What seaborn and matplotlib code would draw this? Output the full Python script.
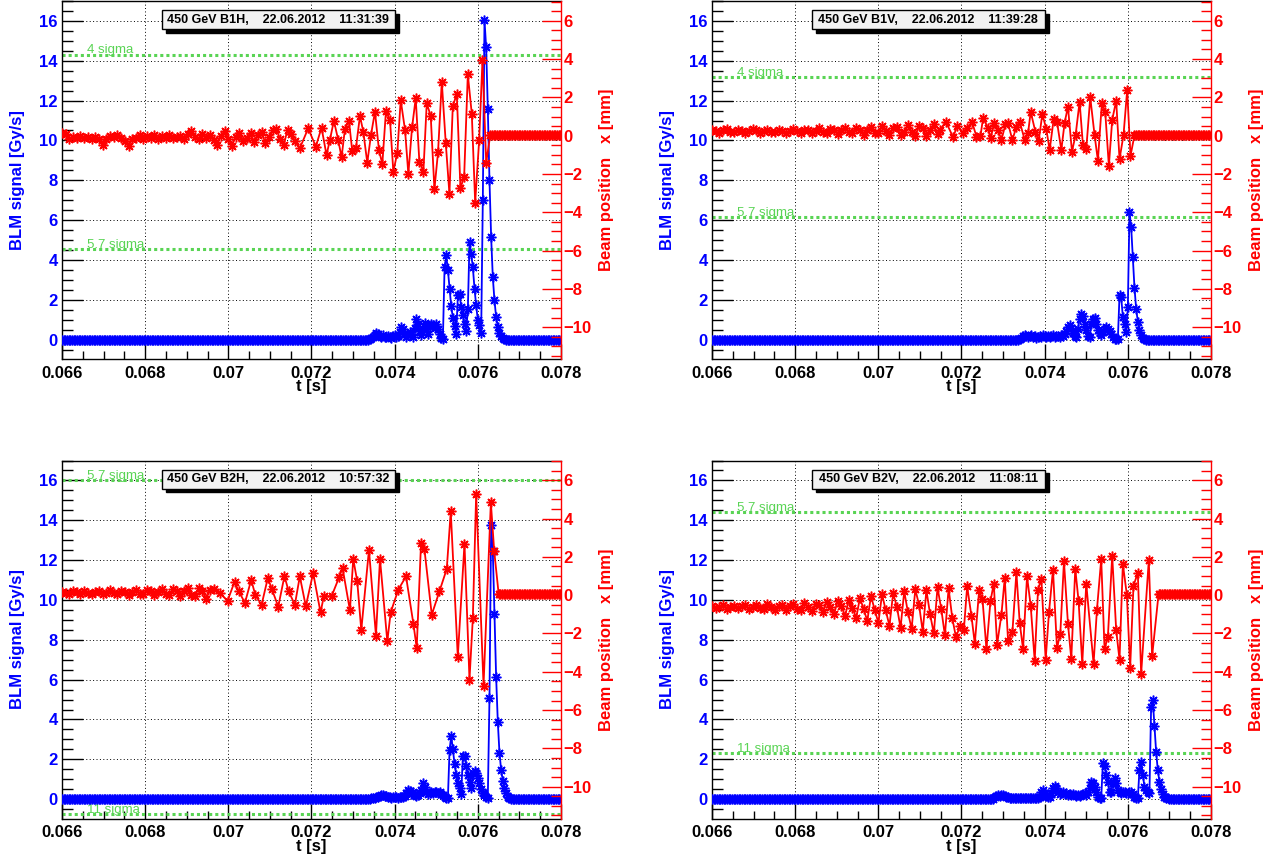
import numpy as np
import matplotlib
matplotlib.use("Agg")
import matplotlib.pyplot as plt
from matplotlib.patches import Rectangle
from matplotlib.ticker import FixedLocator, FixedFormatter, MultipleLocator
from matplotlib.transforms import blended_transform_factory
import seaborn as sns

BLUE = "#0000ff"
RED = "#ff0000"
GREEN = "#59d454"

TURN_MS = 0.0889        # one LHC revolution
BLM_STEP_MS = 0.04      # BLM integration window
T_MIN_MS, T_MAX_MS = 66.0, 78.0

x_ticks = [0.066, 0.068, 0.070, 0.072, 0.074, 0.076, 0.078]
x_tick_labels = ["0.066", "0.068", "0.07", "0.072", "0.074", "0.076", "0.078"]
blm_ticks = [0, 2, 4, 6, 8, 10, 12, 14, 16]
pos_ticks = [-10, -8, -6, -4, -2, 0, 2, 4, 6]

# ---------------- B1H ----------------
b1h_title = "450 GeV B1H,    22.06.2012    11:31:39"
b1h_sigma_levels = [14.31, 4.53]
b1h_sigma_labels = ["4 sigma", "5.7 sigma"]
b1h_pos_early = [0.12, 0.10, -0.20, -0.05, -0.10, 0.00, -0.12, -0.08, -0.15, -0.05,
                 -0.20, -0.47, -0.15, 0.00, -0.05, 0.02, -0.10, -0.30, -0.52, -0.20,
                 -0.10, 0.05, -0.15, 0.00, -0.12, 0.05, -0.15, 0.00, -0.10, 0.02,
                 -0.12, -0.05, 0.00, -0.15, 0.10, 0.23, -0.05, -0.20, 0.08, -0.10,
                 0.05, -0.25, -0.47, 0.00, 0.23, -0.15, -0.52, -0.05, 0.15, -0.30,
                 -0.10, 0.15, -0.35, 0.05, 0.20, -0.40, -0.05, 0.30, 0.35, -0.20,
                 -0.47, 0.30, 0.10, -0.30]
b1h_pos_late_t = [71.719, 71.920, 72.104, 72.241, 72.361, 72.442, 72.538, 72.643, 72.723, 72.803,
                  72.900, 72.980, 73.068, 73.165, 73.245, 73.341, 73.430, 73.526, 73.622, 73.703,
                  73.791, 73.888, 73.968, 74.064, 74.145, 74.249, 74.329, 74.418, 74.506, 74.594,
                  74.691, 74.771, 74.867, 74.956, 75.044, 75.133, 75.229, 75.317, 75.398, 75.494,
                  75.582, 75.671, 75.759, 75.855, 75.936, 76.032, 76.112, 76.201]
b1h_pos_late = [-0.66, 0.38, -0.57, 0.42, -1.01, -0.23, 0.78, -0.23, -1.13, 0.33,
                0.78, -0.80, -0.66, 1.03, 0.21, -1.41, 0.03, 1.25, -0.75, -1.48,
                1.30, 0.82, -1.88, -0.89, 1.86, 0.30, -2.00, 0.43, 1.95, -1.36,
                -1.88, 1.69, 1.03, -2.80, -0.83, 2.82, -0.40, -3.04, 1.55, 2.17,
                -2.75, -2.14, 3.20, 1.13, -3.49, -0.23, 3.95, -1.41]
b1h_pos_after_start = 76.30
b1h_pos_after = 0.05
b1h_blm_start = 73.40
b1h_blm = [0.05, 0.08, 0.12, 0.25, 0.32, 0.28, 0.20, 0.15, 0.22, 0.12,
           0.15, 0.20, 0.15, 0.10, 0.18, 0.22, 0.15, 0.20, 0.40, 0.63,
           0.55, 0.30, 0.15, 0.22, 0.40, 0.30, 0.15, 0.60, 1.05, 0.80,
           0.45, 0.25, 0.55, 0.85, 0.55, 0.30, 0.70, 0.80, 0.72, 0.60,
           0.80, 0.55, 0.30, 0.10, 0.05,
           3.64, 4.23, 3.50, 2.56, 1.67, 1.10, 0.67, 0.30, 2.22, 2.27,
           1.64, 1.22, 0.80, 0.43, 1.54, 4.90, 4.31, 3.64, 2.56, 1.72,
           0.97, 0.72, 0.33, 7.02, 16.05, 14.67, 11.58, 8.00, 5.15, 3.14,
           1.97, 1.14, 0.64, 0.33, 0.17, 0.08, 0.03]

# ---------------- B1V ----------------
b1v_title = "450 GeV B1V,    22.06.2012    11:39:28"
b1v_sigma_levels = [13.17, 6.15]
b1v_sigma_labels = ["4 sigma", "5.7 sigma"]
b1v_pos_early = [0.30, 0.22, 0.15, 0.28, 0.35, 0.20, 0.18, 0.30, 0.25, 0.12,
                 0.22, 0.35, 0.28, 0.15, 0.25, 0.30, 0.20, 0.18, 0.32, 0.26,
                 0.14, 0.24, 0.36, 0.22, 0.16, 0.30, 0.28, 0.12, 0.26, 0.38,
                 0.20, 0.14, 0.34, 0.30, 0.10, 0.28, 0.42, 0.18, 0.12, 0.40,
                 0.30, 0.05, 0.32, 0.45, 0.12, 0.15, 0.48, 0.25, 0.02, 0.40,
                 0.45, 0.05, 0.20, 0.55, 0.18, 0.00, 0.50, 0.40, -0.02, 0.30,
                 0.60, 0.10]
b1v_pos_late_t = [71.480, 71.624, 71.800, 71.896, 72.040, 72.136, 72.256, 72.360, 72.456, 72.520,
                  72.640, 72.704, 72.784, 72.880, 72.960, 73.056, 73.120, 73.224, 73.320, 73.400,
                  73.520, 73.600, 73.664, 73.776, 73.856, 73.944, 74.040, 74.120, 74.216, 74.296,
                  74.400, 74.480, 74.560, 74.656, 74.744, 74.840, 74.920, 75.000, 75.096, 75.200,
                  75.280, 75.376, 75.456, 75.544, 75.624, 75.720, 75.800, 75.896, 75.984, 76.064]
b1v_pos_late = [0.30, 0.73, -0.09, 0.52, 0.16, 0.42, 0.70, -0.05, -0.02, 0.94,
                0.38, -0.10, 0.64, 0.30, -0.23, 0.59, 0.64, -0.23, 0.47, 0.73,
                -0.23, 0.12, 1.25, 0.21, -0.28, 1.13, 0.33, -0.75, 0.85, 0.73,
                -0.75, 0.68, 1.51, -0.83, 0.03, 1.77, -0.49, -0.71, 2.00, 0.03,
                -1.30, 1.72, 1.25, -1.58, 0.82, 1.83, -1.23, 0.03, 2.38, -1.06]
b1v_pos_after_start = 76.16
b1v_pos_after = 0.03
b1v_blm_start = 73.40
b1v_blm = [0.05, 0.10, 0.20, 0.25, 0.20, 0.15, 0.20, 0.25, 0.15, 0.20,
           0.10, 0.15, 0.20, 0.15, 0.25, 0.20, 0.15, 0.20, 0.15, 0.20,
           0.25, 0.15, 0.20, 0.20, 0.15, 0.25, 0.20, 0.30,
           0.45, 0.64, 0.72, 0.60, 0.33, 0.20, 0.13, 0.55, 1.05, 1.30,
           1.17, 0.80, 0.47, 0.20, 0.13, 0.80, 1.05, 1.10, 0.80, 0.50,
           0.35, 0.22, 0.40, 0.55, 0.64, 0.55, 0.45, 0.30, 0.15, 0.05,
           0.02, 0.02, 2.22, 2.14, 1.14, 0.80, 0.38, 1.64, 6.40, 5.65,
           4.15, 2.60, 1.56, 0.90, 0.47, 0.22, 0.10, 0.05]

# ---------------- B2H ----------------
b2h_title = "450 GeV B2H,    22.06.2012    10:57:32"
b2h_sigma_levels = [16.03, -0.75]
b2h_sigma_labels = ["5.7 sigma", "11 sigma"]
b2h_pos_early = [0.18, 0.10, 0.05, 0.20, 0.15, 0.08, 0.22, 0.12, 0.05, 0.18,
                 0.20, 0.06, 0.12, 0.25, 0.10, 0.05, 0.20, 0.18, 0.02, 0.15,
                 0.28, 0.08, 0.05, 0.25, 0.20, 0.00, 0.18, 0.30, 0.05, 0.02,
                 0.32, 0.20, -0.05, 0.22, 0.35, 0.00, -0.05, 0.38, 0.22, -0.20,
                 0.25, 0.30]
b2h_pos_late_t = [69.800, 69.980, 70.150, 70.250, 70.400, 70.550, 70.650, 70.800, 70.950, 71.050,
                  71.200, 71.350, 71.450, 71.600,
                  71.719, 71.863, 72.040, 72.217, 72.297, 72.482, 72.667, 72.747, 72.924, 73.004,
                  73.100, 73.197, 73.382, 73.550, 73.647, 73.823, 73.904, 74.088, 74.273, 74.450,
                  74.530, 74.634, 74.715, 74.892, 75.076, 75.253, 75.349, 75.518, 75.679, 75.799,
                  75.880, 75.960, 76.137, 76.313, 76.394]
b2h_pos_late = [0.10, -0.30, 0.70, 0.20, -0.40, 0.80, 0.00, -0.50, 0.90, 0.30,
                -0.60, 1.00, 0.20, -0.50,
                0.98, -0.58, 1.16, -0.90, -0.06, -0.06, 0.95, 1.42, -0.79, 1.89,
                0.72, -1.83, 2.37, -2.11, 1.89, -2.41, -0.90, 0.29, 0.98, -1.49,
                -2.76, 2.72, 2.41, -1.02, 0.20, 1.37, 4.37, -3.22, 2.69, -4.41,
                -1.19, 5.29, -4.72, 4.84, 2.29]
b2h_pos_after_start = 76.50
b2h_pos_after = 0.08
b2h_blm_start = 73.40
b2h_blm = [0.03, 0.05, 0.05, 0.08, 0.10, 0.12, 0.18, 0.22, 0.20, 0.15,
           0.18, 0.12, 0.10, 0.08, 0.10, 0.12, 0.10, 0.08, 0.12, 0.10,
           0.12, 0.15, 0.30, 0.47, 0.40, 0.25, 0.35, 0.20, 0.15, 0.20,
           0.30, 0.45, 0.80, 0.60, 0.35, 0.25, 0.30, 0.38, 0.30, 0.35,
           0.38, 0.30, 0.35, 0.25, 0.20, 0.10, 0.05, 0.05,
           2.47, 3.17, 2.50, 1.77, 1.22, 0.83, 0.55, 0.25, 2.17, 2.17,
           1.67, 1.22, 0.88, 0.55, 1.30, 1.43, 1.30, 1.05, 0.80, 0.50,
           0.30, 0.20, 0.13, 0.08, 5.06, 13.74, 12.45, 9.28, 6.14, 3.89,
           2.34, 1.47, 0.93, 0.55, 0.30, 0.13, 0.05]

# ---------------- B2V ----------------
b2v_title = "450 GeV B2V,    22.06.2012    11:08:11"
b2v_sigma_levels = [14.41, 2.30]
b2v_sigma_labels = ["5.7 sigma", "11 sigma"]
b2v_pos_early = [-0.55, -0.65, -0.60, -0.50, -0.70, -0.62, -0.55, -0.68, -0.58, -0.50,
                 -0.72, -0.60, -0.52, -0.66, -0.70, -0.48, -0.60, -0.75, -0.55, -0.50,
                 -0.78, -0.58, -0.45, -0.70, -0.80, -0.40, -0.62, -0.85, -0.45, -0.50,
                 -0.90, -0.35, -0.60, -1.00, -0.30, -0.55, -1.10, -0.25, -0.65, -1.20,
                 -0.15, -0.70, -1.35, -0.05, -0.75, -1.45, 0.05, -0.80, -1.60, 0.10,
                 -0.60, -1.70, 0.20, -0.90, -1.75, 0.30, -0.50, -1.90, 0.25, -1.00,
                 -2.00, 0.40, -0.70, -2.10, 0.35, -1.20, -2.20]
b2v_pos_late_t = [71.960, 72.056, 72.136, 72.240, 72.320, 72.424, 72.504, 72.600, 72.696, 72.776,
                  72.856, 72.960, 73.040, 73.120, 73.224, 73.320, 73.400, 73.480, 73.576, 73.664,
                  73.760, 73.840, 73.920, 74.024, 74.104, 74.200, 74.296, 74.376, 74.464, 74.560,
                  74.640, 74.736, 74.816, 74.904, 75.000, 75.176, 75.256, 75.360, 75.440, 75.520,
                  75.624, 75.720, 75.800, 75.880, 75.976, 76.056, 76.136, 76.240, 76.320, 76.504,
                  76.584]
b2v_pos_late = [-1.63, -1.83, 0.46, -1.10, -2.53, 0.25, -0.20, -2.81, -0.32, 0.60,
                -2.58, -1.02, 0.90, -2.41, -1.94, 1.19, -1.45, -2.81, 0.98, -0.55,
                -3.42, 0.29, 0.84, -3.37, -0.90, 1.33, -2.76, -2.01, 1.77, -1.49,
                -3.33, 1.37, -0.32, -3.58, 0.60, -3.58, -0.79, 1.88, -2.81, -2.18,
                2.06, -1.83, -3.37, 1.62, 0.03, -3.80, 0.50, 1.16, -4.11, 1.82,
                -3.19]
b2v_pos_after_start = 76.74
b2v_pos_after = 0.08
b2v_blm_start = 72.80
b2v_blm = [0.10, 0.15, 0.20, 0.18, 0.22, 0.20, 0.15, 0.12, 0.10, 0.08,
           0.05, 0.05, 0.08, 0.05, 0.05, 0.08, 0.05, 0.05, 0.08, 0.05,
           0.05, 0.08, 0.05, 0.05, 0.06, 0.05, 0.08, 0.10,
           0.35, 0.47, 0.30, 0.15, 0.10, 0.12,
           0.30, 0.55, 0.67, 0.55, 0.35,
           0.25, 0.30, 0.35, 0.25, 0.30, 0.20, 0.25, 0.20, 0.25, 0.20,
           0.15, 0.20, 0.15, 0.20, 0.25, 0.30, 0.20,
           0.35, 0.55, 0.88, 0.80, 0.63, 0.35, 0.13, 0.08, 0.05, 1.84,
           1.67, 1.20, 0.88, 0.38, 0.38, 0.80, 1.08, 0.80, 0.47, 0.35,
           0.30, 0.35, 0.38, 0.32, 0.30, 0.35, 0.38, 0.25, 0.13, 0.08,
           0.05, 1.47, 1.89, 1.22, 0.63, 0.45, 0.38, 0.30, 4.64, 4.98,
           3.67, 2.39, 1.47, 0.88, 0.50, 0.27, 0.13, 0.08, 0.05]

panels = [
    dict(title=b1h_title, levels=b1h_sigma_levels, labels=b1h_sigma_labels,
         pos_early=b1h_pos_early, pos_late_t=b1h_pos_late_t, pos_late=b1h_pos_late,
         after_start=b1h_pos_after_start, after=b1h_pos_after,
         blm_start=b1h_blm_start, blm=b1h_blm),
    dict(title=b1v_title, levels=b1v_sigma_levels, labels=b1v_sigma_labels,
         pos_early=b1v_pos_early, pos_late_t=b1v_pos_late_t, pos_late=b1v_pos_late,
         after_start=b1v_pos_after_start, after=b1v_pos_after,
         blm_start=b1v_blm_start, blm=b1v_blm),
    dict(title=b2h_title, levels=b2h_sigma_levels, labels=b2h_sigma_labels,
         pos_early=b2h_pos_early, pos_late_t=b2h_pos_late_t, pos_late=b2h_pos_late,
         after_start=b2h_pos_after_start, after=b2h_pos_after,
         blm_start=b2h_blm_start, blm=b2h_blm),
    dict(title=b2v_title, levels=b2v_sigma_levels, labels=b2v_sigma_labels,
         pos_early=b2v_pos_early, pos_late_t=b2v_pos_late_t, pos_late=b2v_pos_late,
         after_start=b2v_pos_after_start, after=b2v_pos_after,
         blm_start=b2v_blm_start, blm=b2v_blm),
]


def blm_trace(start_ms, values):
    """BLM signal sampled every integration window; quiet outside the listed window."""
    t = np.arange(T_MIN_MS, T_MAX_MS + 1e-9, BLM_STEP_MS)
    y = np.zeros_like(t)
    i0 = int(round((start_ms - T_MIN_MS) / BLM_STEP_MS))
    y[i0:i0 + len(values)] = values
    return t / 1000.0, y


def pos_trace(p):
    """Turn-by-turn beam position, then the flat reading after the dump."""
    t_early = T_MIN_MS + TURN_MS * np.arange(len(p["pos_early"]))
    t_after = np.arange(p["after_start"], T_MAX_MS + 1e-9, BLM_STEP_MS)
    t = np.concatenate([t_early, np.asarray(p["pos_late_t"]), t_after])
    x = np.concatenate([np.asarray(p["pos_early"]), np.asarray(p["pos_late"]),
                        np.full(len(t_after), p["after"])])
    return t / 1000.0, x


sns.set_style("white")
plt.rcParams["font.family"] = ["Liberation Sans", "DejaVu Sans"]
plt.rcParams["font.weight"] = "bold"

fig = plt.figure(figsize=(12.76, 8.60), dpi=100)
W, H = 1276.0, 860.0
ax_w, ax_h = 499 / W, 358 / H
positions = [
    (62 / W, 1 - 359 / H),
    (712 / W, 1 - 359 / H),
    (62 / W, 1 - 818.5 / H),
    (712 / W, 1 - 818.5 / H),
]

STAR = (8, 2, 0)
MS = 7.0
MEW = 1.1

for p, (x0, y0) in zip(panels, positions):
    ax = fig.add_axes([x0, y0, ax_w, ax_h])
    ax2 = ax.twinx()

    # green reference levels
    tr = blended_transform_factory(ax.transAxes, ax.transData)
    for lvl, lab in zip(p["levels"], p["labels"]):
        ax.axhline(lvl, color=GREEN, lw=2.2, ls=(0, (1, 1)), zorder=1.8)
        ax.text(0.05, lvl + 0.06, lab, transform=tr, color=GREEN, fontsize=9.5,
                fontweight="normal", ha="left", va="baseline", zorder=1.9)

    t_blm, blm = blm_trace(p["blm_start"], p["blm"])
    sns.lineplot(x=t_blm, y=blm, ax=ax, color=BLUE, lw=1.3, marker=STAR,
                 markersize=MS, mec=BLUE, mew=MEW, estimator=None, sort=False,
                 errorbar=None, zorder=3)

    t_pos, pos = pos_trace(p)
    sns.lineplot(x=t_pos, y=pos, ax=ax2, color=RED, lw=1.3, marker=STAR,
                 markersize=MS, mec=RED, mew=MEW, estimator=None, sort=False,
                 errorbar=None, zorder=3)

    # axes ranges and ticks
    ax.set_xlim(0.066, 0.078)
    ax.set_ylim(-0.97, 17.0)
    ax2.set_ylim(-11.66, 7.03)

    ax.xaxis.set_major_locator(FixedLocator(x_ticks))
    ax.xaxis.set_major_formatter(FixedFormatter(x_tick_labels))
    ax.xaxis.set_minor_locator(MultipleLocator(0.0005))
    ax.yaxis.set_major_locator(FixedLocator(blm_ticks))
    ax.yaxis.set_minor_locator(MultipleLocator(0.5))
    ax2.yaxis.set_major_locator(FixedLocator(pos_ticks))
    ax2.yaxis.set_minor_locator(MultipleLocator(0.5))

    ax.tick_params(axis="x", which="both", direction="in", bottom=True, top=False,
                   color="black", labelcolor="black", labelsize=12, pad=5)
    ax.tick_params(axis="x", which="major", length=11, width=1)
    ax.tick_params(axis="x", which="minor", length=6, width=1)
    ax.tick_params(axis="y", which="both", direction="in", left=True, right=False,
                   color="black", labelcolor=BLUE, labelsize=12, pad=3)
    ax.tick_params(axis="y", which="major", length=15, width=1)
    ax.tick_params(axis="y", which="minor", length=8, width=1)
    ax2.tick_params(axis="y", which="both", direction="in", left=False, right=True,
                    color=RED, labelcolor=RED, labelsize=12, pad=2)
    ax2.tick_params(axis="y", which="major", length=14, width=1)
    ax2.tick_params(axis="y", which="minor", length=7, width=1)
    for lab in ax.get_xticklabels() + ax.get_yticklabels() + ax2.get_yticklabels():
        lab.set_fontweight("bold")

    ax.grid(True, which="major", color="black", lw=0.7, ls=(0, (1, 2.5)))
    ax.set_axisbelow(True)
    ax2.grid(False)

    for side in ("left", "bottom", "top"):
        ax.spines[side].set_color("black")
        ax.spines[side].set_linewidth(1.0)
        ax2.spines[side].set_visible(False)
    ax.spines["right"].set_visible(False)
    ax2.spines["right"].set_color(RED)
    ax2.spines["right"].set_linewidth(1.0)

    ax.set_xlabel("t [s]", fontsize=12, fontweight="bold", color="black")
    ax.xaxis.set_label_coords(0.5, -0.056)
    ax.set_ylabel("BLM signal [Gy/s]", fontsize=12, fontweight="bold", color=BLUE)
    ax.yaxis.set_label_coords(-0.074, 0.5)
    ax2.set_ylabel("Beam position   x [mm]", fontsize=12, fontweight="bold", color=RED)
    ax2.yaxis.set_label_coords(1.076, 0.5)

    # shadowed title box
    bx, by, bw, bh = 0.1998, 0.9204, 0.4675, 0.0539
    ax2.add_patch(Rectangle((bx + 0.008, by - 0.0095), bw, bh, transform=ax2.transAxes,
                            facecolor="black", edgecolor="black", lw=1.0,
                            zorder=10, clip_on=False))
    ax2.add_patch(Rectangle((bx, by), bw, bh, transform=ax2.transAxes,
                            facecolor="#f2f2f2", edgecolor="black", lw=1.0,
                            zorder=11, clip_on=False))
    ax2.text(bx + bw / 2, by + bh / 2, p["title"], transform=ax2.transAxes,
             ha="center", va="center", fontsize=9, fontweight="bold", color="black",
             zorder=12)

fig.savefig("out.png", dpi=100, facecolor="white")
